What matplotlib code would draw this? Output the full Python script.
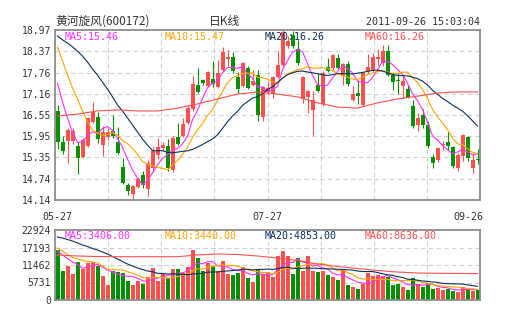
import numpy as np
import pandas as pd
import matplotlib
matplotlib.use('Agg')
import matplotlib.pyplot as plt

# daily bars 2011-05-27 .. 2011-09-26
opens = [16.67, 15.79, 15.81, 15.81, 15.67, 15.36, 15.67, 16.36, 16.50, 15.70,
         15.93, 16.10, 15.79, 15.07, 14.57, 14.32, 14.51, 14.85, 14.45, 15.05,
         15.42, 15.62, 15.67, 14.99, 15.93, 15.96, 16.33, 16.72, 17.41, 17.55,
         17.38, 17.58, 17.35, 17.83, 18.15, 18.20, 17.63, 17.38, 17.89, 17.41,
         17.69, 16.50, 17.21, 17.18, 17.63, 17.98, 18.52, 18.83, 18.43, 17.01,
         17.07, 16.70, 17.41, 16.87, 17.92, 17.89, 18.17, 17.66, 18.00, 16.98,
         17.18, 16.84, 17.81, 17.83, 18.16, 18.03, 18.37, 17.69, 17.55, 17.38,
         17.29, 16.82, 16.27, 16.55, 16.27, 15.36, 15.29, 15.69, 15.79, 15.64,
         15.05, 15.39, 15.93, 15.05, 15.28]
highs = [16.84, 15.96, 16.19, 16.19, 15.79, 15.90, 16.50, 16.92, 16.64, 16.24,
         16.19, 16.55, 16.21, 15.33, 14.62, 14.57, 14.79, 14.96, 15.28, 15.64,
         15.90, 15.79, 15.87, 15.96, 16.33, 16.47, 16.84, 17.66, 17.89, 17.58,
         17.81, 18.09, 18.12, 18.49, 18.40, 18.35, 17.78, 18.06, 17.95, 17.83,
         17.83, 17.38, 17.49, 17.66, 18.37, 18.97, 18.80, 18.94, 18.69, 17.66,
         17.27, 17.24, 17.75, 17.81, 18.17, 18.29, 18.29, 18.03, 18.09, 17.38,
         17.55, 17.78, 18.29, 18.32, 18.43, 18.54, 18.54, 17.78, 17.75, 17.69,
         17.41, 16.98, 16.61, 16.72, 16.38, 15.44, 15.66, 15.81, 16.07, 15.67,
         15.47, 16.01, 15.97, 15.47, 15.59]
lows = [15.59, 15.44, 15.19, 15.73, 14.88, 15.33, 15.64, 16.33, 15.76, 15.39,
        15.84, 15.90, 15.44, 14.60, 14.29, 14.14, 14.48, 14.48, 14.26, 14.93,
        15.30, 15.53, 14.96, 14.93, 15.70, 15.93, 16.30, 16.67, 17.18, 17.41,
        17.35, 17.35, 17.32, 17.81, 17.95, 17.75, 17.18, 17.35, 17.29, 17.38,
        16.38, 16.38, 17.15, 17.04, 17.61, 17.95, 18.46, 18.46, 17.98, 16.90,
        16.61, 15.99, 17.21, 16.81, 17.78, 17.83, 17.86, 17.41, 17.38, 16.95,
        16.87, 16.81, 17.72, 17.78, 17.98, 17.95, 17.66, 17.27, 17.15, 17.04,
        17.04, 16.19, 16.10, 16.19, 15.62, 15.05, 15.22, 15.56, 15.56, 15.05,
        14.96, 15.25, 15.25, 14.91, 15.16]
closes = [15.79, 15.53, 16.13, 16.10, 15.33, 15.84, 16.47, 16.64, 15.87, 16.07,
          16.07, 15.96, 15.47, 14.62, 14.40, 14.54, 14.74, 14.57, 15.19, 15.53,
          15.64, 15.70, 15.05, 15.90, 15.73, 16.30, 16.75, 17.44, 17.21, 17.46,
          17.78, 17.44, 17.75, 18.35, 18.20, 17.81, 17.29, 18.03, 17.32, 17.52,
          16.55, 17.35, 17.32, 17.63, 17.98, 18.91, 18.66, 18.52, 18.03, 17.63,
          17.24, 16.98, 17.24, 17.75, 17.81, 18.26, 17.89, 18.00, 17.44, 17.15,
          17.09, 17.75, 17.92, 18.20, 18.19, 18.37, 17.69, 17.49, 17.51, 17.51,
          17.08, 16.24, 16.47, 16.27, 15.67, 15.19, 15.61, 15.71, 15.67, 15.10,
          15.42, 15.99, 15.32, 15.28, 15.27]
volumes = [16375, 9600, 11135, 8515, 12543, 10054, 12216, 12543, 11135, 7860,
           4912, 9498, 9268, 8744, 6320, 4912, 6320, 5240, 7434, 10382,
           6320, 8515, 7107, 10152, 10152, 8941, 10710, 16375, 13657, 9600,
           12216, 11135, 9600, 12772, 8515, 8188, 8941, 10710, 7303, 5993,
           9825, 8515, 9268, 7631, 14410, 16146, 14410, 8515, 13657, 9596,
           14410, 9596, 9268, 9596, 8188, 7434, 6550, 10054, 4912, 4159,
           3504, 5240, 8941, 7860, 8188, 7860, 7434, 4912, 5240, 4159,
           3275, 7107, 5240, 4159, 5666, 3585, 3814, 3356, 3585, 3030,
           2633, 4401, 3746, 2960, 3290]

date_labels = ['05-27', '07-27', '09-26']
date_index = [0, 42, 84]

# averages for the first bars (they reach back before the window)
ma5_head = [17.46, 16.92, 16.47, 16.07]
ma10_head = [18.49, 18.09, 17.69, 17.32, 17.01, 16.67, 16.36, 16.13, 16.04]
ma20_head = [18.80, 18.69, 18.60, 18.49, 18.37, 18.23, 18.06, 17.86, 17.69, 17.49,
             17.29, 17.07, 16.84, 16.67, 16.47, 16.27, 16.07, 15.87, 15.70]
ma60_every4 = [16.53, 16.58, 16.67, 16.70, 16.67, 16.67, 16.75, 16.87, 17.01, 17.15, 17.21,
               17.15, 17.07, 16.90, 16.78, 16.75, 16.90, 17.01, 17.09, 17.18, 17.21, 17.21]

vma5_head = [16048, 14738, 13590, 12445]
vma10_head = [17030, 16048, 14900, 13920, 13428, 12936, 12609, 12445, 12118]
vma20_head = [20633, 20305, 19814, 19323, 18668, 18013, 17521, 16866, 16375, 15720,
              15065, 14246, 13428, 12609, 11790, 11135, 10480, 9989, 9498]
vma60_every4 = [14738, 14410, 14246, 14181, 14181, 14181, 14181, 14738, 15065, 14901, 14410,
                13755, 12936, 11790, 10971, 10316, 9661, 9170, 8843, 8760, 8700, 8636]

price_ticks = [14.14, 14.74, 15.35, 15.95, 16.55, 17.16, 17.76, 18.37, 18.97]
vol_ticks = [0, 5731, 11462, 17193, 22924]

price_labels = ['MA5:15.46', 'MA10:15.47', 'MA20:16.26', 'MA60:16.26']
vol_labels = ['MA5:3406.00', 'MA10:3440.00', 'MA20:4853.00', 'MA60:8636.00']

UP = '#ff5050'
DOWN = '#009000'
MA_COLORS = ['#ff30ff', '#ffa500', '#0c2f5e', '#ff5050']
GRID = '#d0d0d0'
FRAME = '#8c8c8c'
TEXT = '#333333'
MONO = 'DejaVu Sans Mono'
CJK = ['Noto Sans CJK SC', 'DejaVu Sans']

W, H = 505, 330


def moving_avg(values, n, head):
    ma = pd.Series(values, dtype=float).rolling(n).mean().to_numpy()
    ma[:len(head)] = head
    return ma


def frame(ax, xmax):
    for s in ax.spines.values():
        s.set_color(FRAME)
        s.set_linewidth(1.3)
    ax.set_xticks([])
    ax.tick_params(axis='y', length=0, pad=3, labelsize=7, labelcolor=TEXT)
    for lbl in ax.get_yticklabels():
        lbl.set_family(MONO)
    # dashed grid, 8 columns
    for k in range(1, 8):
        ax.axvline(-0.5 + xmax * k / 8, color=GRID, lw=0.8, ls=(0, (4, 3)), zorder=0)


n = len(closes)
x = np.arange(n)
o = np.array(opens)
c = np.array(closes)
up = c >= o
colors = np.where(up, UP, DOWN)

fig = plt.figure(figsize=(W / 100, H / 100), dpi=100)
fig.patch.set_facecolor('white')

ax = fig.add_axes([55 / W, 1 - 200 / H, 425 / W, 170 / H])
axv = fig.add_axes([55 / W, 1 - 300 / H, 425 / W, 70 / H])

# candles
ax.vlines(x, lows, highs, colors=colors, lw=0.8, zorder=2)
body = np.maximum(np.abs(c - o), 0.03)
ax.bar(x, body, bottom=np.minimum(o, c), width=0.8, color=colors, lw=0, zorder=3)

ma_lines = [
    (x, moving_avg(closes, 5, ma5_head)),
    (x, moving_avg(closes, 10, ma10_head)),
    (x, moving_avg(closes, 20, ma20_head)),
    (np.arange(0, n, 4), ma60_every4),
]
for (mx, my), col in zip(ma_lines, MA_COLORS):
    ax.plot(mx, my, color=col, lw=0.8, zorder=4)

ax.set_xlim(-0.5, n - 0.5)
ax.set_ylim(price_ticks[0], price_ticks[-1])
ax.set_yticks(price_ticks)
ax.set_yticklabels([f'{t:.2f}' for t in price_ticks])
for t in price_ticks[1:-1]:
    ax.axhline(t, color=GRID, lw=0.8, ls=(0, (4, 3)), zorder=0)
frame(ax, n)

# volume
axv.bar(x, volumes, width=0.8, color=colors, lw=0, zorder=2)
vma_lines = [
    (x, moving_avg(volumes, 5, vma5_head)),
    (x, moving_avg(volumes, 10, vma10_head)),
    (x, moving_avg(volumes, 20, vma20_head)),
    (np.arange(0, n, 4), vma60_every4),
]
for (mx, my), col in zip(vma_lines, MA_COLORS):
    axv.plot(mx, my, color=col, lw=0.8, zorder=4)

axv.set_xlim(-0.5, n - 0.5)
axv.set_ylim(vol_ticks[0], vol_ticks[-1])
axv.set_yticks(vol_ticks)
axv.set_yticklabels([str(t) for t in vol_ticks])
for t in vol_ticks[1:-1]:
    axv.axhline(t, color=GRID, lw=0.8, ls=(0, (4, 3)), zorder=0)
frame(axv, n)


def px(px_x, px_y):
    return px_x / W, 1 - px_y / H


# legends of the averages
for k, (pl, vl, col) in enumerate(zip(price_labels, vol_labels, MA_COLORS)):
    fig.text(*px(65 + 100 * k, 37), pl, color=col, fontsize=7.2, family=MONO,
             va='center', ha='left')
    fig.text(*px(65 + 100 * k, 236), vl, color=col, fontsize=7.2, family=MONO,
             va='center', ha='left')

# dates under the price panel
for lbl, idx in zip(date_labels, date_index):
    ha = 'right' if idx == n - 1 else 'center'
    xpos = n + 0.1 if idx == n - 1 else idx
    ax.annotate(lbl, (xpos, 0), xycoords=('data', 'axes fraction'),
                xytext=(0, -12), textcoords='offset points', ha=ha, va='center',
                fontsize=7.2, family=MONO, color=TEXT)

fig.text(*px(55, 21), '黄河旋风(600172)', fontsize=8.5, family=CJK, color=TEXT,
         ha='left', va='center')
fig.text(*px(225, 21), '日K线', fontsize=8.5, family=CJK, color=TEXT,
         ha='center', va='center')
fig.text(*px(480, 22), '2011-09-26 15:03:04', fontsize=7.2, family=MONO, color=TEXT,
         ha='right', va='center')

fig.savefig('out.png', dpi=100, facecolor='white')
